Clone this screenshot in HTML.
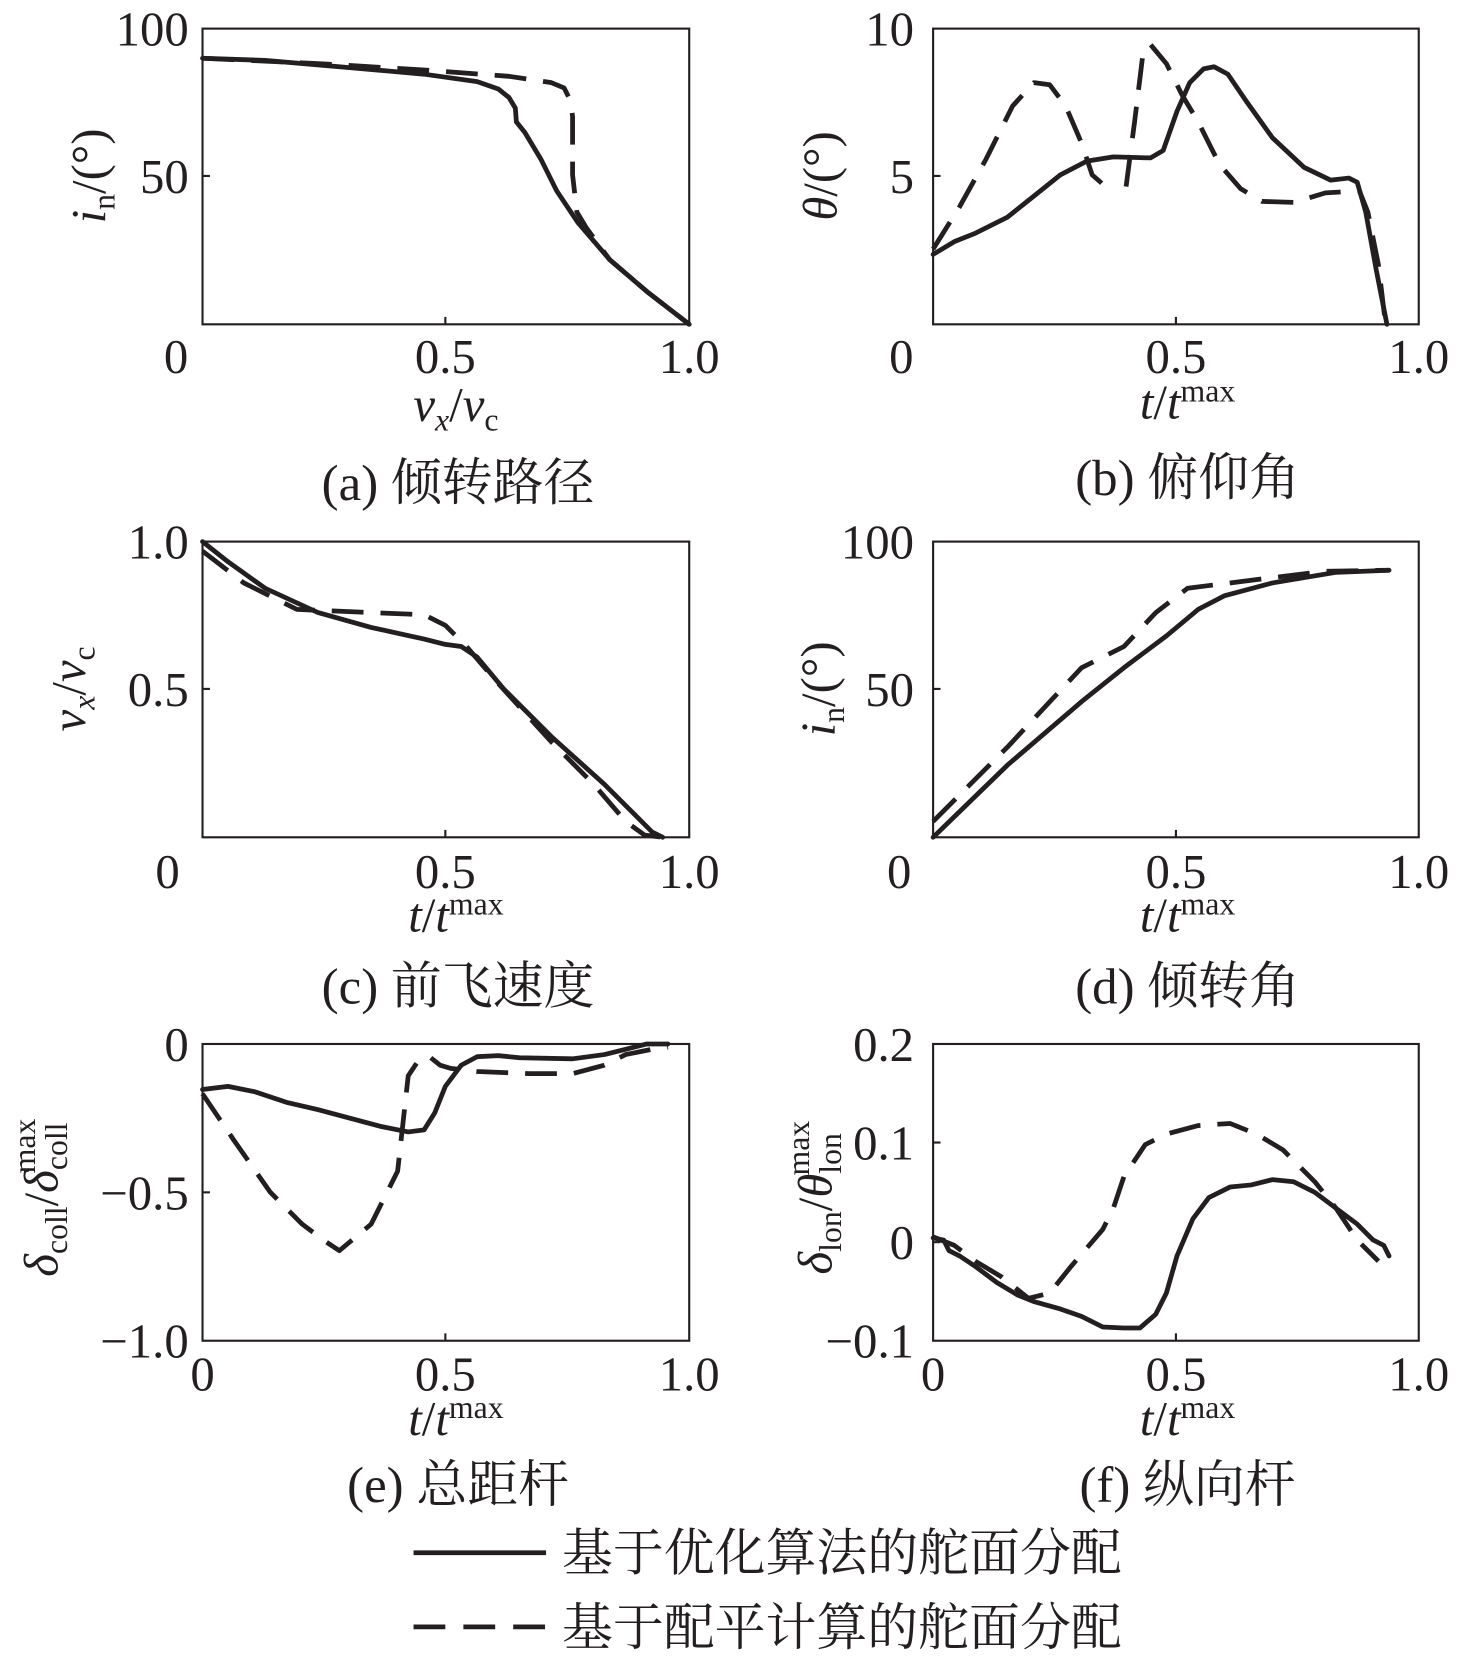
<!DOCTYPE html>
<html><head><meta charset="utf-8">
<style>
html,body{margin:0;padding:0;background:#fff;}
svg{display:block;}
text{font-family:"Liberation Serif","Noto Serif CJK SC","Noto Sans CJK SC",serif;fill:#231f20;}
.t{font-size:46px;}
.cj{font-size:48px;}
.ax{fill:none;stroke:#231f20;stroke-width:2;}
.s{fill:none;stroke:#231f20;stroke-width:4.5;stroke-linejoin:round;stroke-linecap:round;}
.d{fill:none;stroke:#231f20;stroke-width:4.5;stroke-dasharray:30 16;stroke-linejoin:round;}
</style></head><body>
<svg width="1476" height="1664" viewBox="0 0 1392 1570" preserveAspectRatio="none" xmlns="http://www.w3.org/2000/svg">
<!-- (a) -->
<rect class="ax" x="191" y="27" width="459" height="279"/>
<line class="ax" x1="191" y1="166" x2="198" y2="166"/><line class="ax" x1="420" y1="306" x2="420" y2="299"/>
<text class="t" x="178" y="43" text-anchor="end">100</text>
<text class="t" x="178" y="182" text-anchor="end">50</text>
<text class="t" x="166" y="352" text-anchor="middle">0</text>
<text class="t" x="420" y="352" text-anchor="middle">0.5</text>
<text class="t" x="650" y="352" text-anchor="middle">1.0</text>
<text class="t" x="430" y="397" text-anchor="middle" font-style="italic">v<tspan font-size="30" dy="9">x</tspan><tspan dy="-9" font-style="normal">/</tspan>v<tspan font-size="30" dy="9" font-style="normal">c</tspan></text>
<text class="t" transform="translate(99,166) rotate(-90)" text-anchor="middle"><tspan font-style="italic">i</tspan><tspan font-size="30" dy="9">n</tspan><tspan dy="-9">/(°)</tspan></text>
<text class="cj" x="432" y="472" text-anchor="middle">(a) 倾转路径</text>
<polyline class="s" points="191,55 250,57 320,63 400,70 450,77 470,84 480,92 486,102 487,115 495,125 510,150 525,180 545,210 575,245 610,275 650,306"/>
<polyline class="d" points="191,55 300,60 400,66 480,72 520,78 532,83 538,95 540,110 540,165 544,200 553,215 575,245 610,275 650,306"/>
<!-- (b) -->
<rect class="ax" x="880" y="27" width="458" height="279"/>
<line class="ax" x1="880" y1="166" x2="887" y2="166"/><line class="ax" x1="1109" y1="306" x2="1109" y2="299"/>
<text class="t" x="862" y="43" text-anchor="end">10</text>
<text class="t" x="862" y="182" text-anchor="end">5</text>
<text class="t" x="850" y="352" text-anchor="middle">0</text>
<text class="t" x="1109" y="352" text-anchor="middle">0.5</text>
<text class="t" x="1338" y="352" text-anchor="middle">1.0</text>
<text class="t" x="1120" y="395" text-anchor="middle"><tspan font-style="italic">t</tspan>/<tspan font-style="italic">t</tspan><tspan font-size="30" dy="-16">max</tspan></text>
<text class="t" transform="translate(789,166) rotate(-90)" text-anchor="middle"><tspan font-style="italic">θ</tspan>/(°)</text>
<text class="cj" x="1120" y="467" text-anchor="middle">(b) 俯仰角</text>
<polyline class="s" points="880,240 900,228 920,220 950,205 975,185 1000,165 1025,152 1050,148 1085,149 1097,142 1110,105 1122,78 1135,65 1145,63 1158,70 1175,95 1200,130 1230,158 1255,170 1272,168 1280,172 1288,200 1298,255 1308,306"/>
<polyline class="d" points="880,235 905,195 930,150 955,100 975,78 990,80 1005,100 1020,135 1030,165 1045,178"/>
<polyline class="d" points="1062,176 1070,115 1078,50 1085,42 1100,60 1115,90 1130,115 1150,155 1170,178 1190,190 1220,191 1250,182 1282,180 1290,200 1300,250 1306,300"/>
<!-- (c) -->
<rect class="ax" x="191" y="511" width="459" height="279"/>
<line class="ax" x1="191" y1="650" x2="198" y2="650"/><line class="ax" x1="420" y1="790" x2="420" y2="783"/>
<text class="t" x="178" y="527" text-anchor="end">1.0</text>
<text class="t" x="178" y="666" text-anchor="end">0.5</text>
<text class="t" x="158" y="838" text-anchor="middle">0</text>
<text class="t" x="420" y="838" text-anchor="middle">0.5</text>
<text class="t" x="650" y="838" text-anchor="middle">1.0</text>
<text class="t" x="430" y="879" text-anchor="middle"><tspan font-style="italic">t</tspan>/<tspan font-style="italic">t</tspan><tspan font-size="30" dy="-16">max</tspan></text>
<text class="t" transform="translate(80,650) rotate(-90)" text-anchor="middle" font-style="italic">v<tspan font-size="30" dy="9">x</tspan><tspan dy="-9" font-style="normal">/</tspan>v<tspan font-size="30" dy="9" font-style="normal">c</tspan></text>
<text class="cj" x="432" y="947" text-anchor="middle">(c) 前飞速度</text>
<polyline class="s" points="191,511 215,530 250,555 300,578 350,592 400,603 420,608 435,610 450,620 475,650 520,695 570,740 600,770 615,785 625,790"/>
<polyline class="d" points="191,520 230,550 280,575 350,578 400,580 420,590 440,610 470,645 520,700 560,740 590,775 608,788 625,790"/>
<!-- (d) -->
<rect class="ax" x="880" y="511" width="458" height="279"/>
<line class="ax" x1="880" y1="650" x2="887" y2="650"/><line class="ax" x1="1109" y1="790" x2="1109" y2="783"/>
<text class="t" x="862" y="527" text-anchor="end">100</text>
<text class="t" x="862" y="666" text-anchor="end">50</text>
<text class="t" x="848" y="838" text-anchor="middle">0</text>
<text class="t" x="1109" y="838" text-anchor="middle">0.5</text>
<text class="t" x="1338" y="838" text-anchor="middle">1.0</text>
<text class="t" x="1120" y="879" text-anchor="middle"><tspan font-style="italic">t</tspan>/<tspan font-style="italic">t</tspan><tspan font-size="30" dy="-16">max</tspan></text>
<text class="t" transform="translate(787,650) rotate(-90)" text-anchor="middle"><tspan font-style="italic">i</tspan><tspan font-size="30" dy="9">n</tspan><tspan dy="-9">/(°)</tspan></text>
<text class="cj" x="1120" y="947" text-anchor="middle">(d) 倾转角</text>
<polyline class="s" points="880,790 950,722 1020,662 1060,630 1100,600 1130,575 1155,562 1200,550 1260,540 1310,538"/>
<polyline class="d" points="880,775 950,705 1020,630 1060,610 1090,578 1120,555 1200,545 1250,539 1310,538"/>
<!-- (e) -->
<rect class="ax" x="191" y="985" width="459" height="280"/>
<line class="ax" x1="191" y1="1125" x2="198" y2="1125"/><line class="ax" x1="420" y1="1265" x2="420" y2="1258"/>
<text class="t" x="178" y="1001" text-anchor="end">0</text>
<text class="t" x="178" y="1141" text-anchor="end">−0.5</text>
<text class="t" x="178" y="1281" text-anchor="end">−1.0</text>
<text class="t" x="191" y="1312" text-anchor="middle">0</text>
<text class="t" x="420" y="1312" text-anchor="middle">0.5</text>
<text class="t" x="650" y="1312" text-anchor="middle">1.0</text>
<text class="t" x="430" y="1354" text-anchor="middle"><tspan font-style="italic">t</tspan>/<tspan font-style="italic">t</tspan><tspan font-size="30" dy="-16">max</tspan></text>
<text class="t" transform="translate(54,1130) rotate(-90)" text-anchor="middle"><tspan font-style="italic">δ</tspan><tspan font-size="30" dy="9">coll</tspan><tspan dy="-9">/</tspan><tspan font-style="italic">δ</tspan><tspan font-size="30" dy="9">coll</tspan><tspan font-size="30" dx="-48" dy="-30">max</tspan></text>
<text class="cj" x="432" y="1417" text-anchor="middle">(e) 总距杆</text>
<polyline class="s" points="191,1028 215,1025 240,1030 270,1040 300,1047 330,1055 360,1063 385,1068 400,1066 410,1050 420,1025 435,1005 450,997 470,996 490,998 540,999 570,995 590,990 610,985 630,985"/>
<polyline class="d" points="191,1032 220,1075 255,1125 285,1155 305,1170 320,1180 350,1155 375,1105 380,1060 385,1015 395,1000 405,997 415,1005 425,1008 450,1011 500,1013 540,1013 570,1005 590,995 615,990 630,988"/>
<!-- (f) -->
<rect class="ax" x="880" y="985" width="458" height="280"/>
<line class="ax" x1="880" y1="1078" x2="887" y2="1078"/><line class="ax" x1="880" y1="1172" x2="887" y2="1172"/><line class="ax" x1="1109" y1="1265" x2="1109" y2="1258"/>
<text class="t" x="862" y="1001" text-anchor="end">0.2</text>
<text class="t" x="862" y="1094" text-anchor="end">0.1</text>
<text class="t" x="862" y="1188" text-anchor="end">0</text>
<text class="t" x="862" y="1281" text-anchor="end">−0.1</text>
<text class="t" x="880" y="1312" text-anchor="middle">0</text>
<text class="t" x="1109" y="1312" text-anchor="middle">0.5</text>
<text class="t" x="1338" y="1312" text-anchor="middle">1.0</text>
<text class="t" x="1120" y="1354" text-anchor="middle"><tspan font-style="italic">t</tspan>/<tspan font-style="italic">t</tspan><tspan font-size="30" dy="-16">max</tspan></text>
<text class="t" transform="translate(784,1130) rotate(-90)" text-anchor="middle"><tspan font-style="italic">δ</tspan><tspan font-size="30" dy="9">lon</tspan><tspan dy="-9">/</tspan><tspan font-style="italic">θ</tspan><tspan font-size="30" dy="9">lon</tspan><tspan font-size="30" dx="-40" dy="-30">max</tspan></text>
<text class="cj" x="1120" y="1417" text-anchor="middle">(f) 纵向杆</text>
<polyline class="s" points="880,1168 890,1170 895,1180 905,1185 920,1195 940,1210 960,1222 975,1228 1000,1235 1020,1242 1040,1252 1060,1253 1075,1253 1090,1240 1100,1220 1110,1185 1125,1150 1140,1130 1160,1120 1180,1118 1200,1113 1220,1115 1240,1125 1260,1140 1280,1155 1295,1170 1305,1175 1310,1185"/>
<polyline class="d" points="880,1167 900,1175 920,1190 945,1205 970,1225 990,1220 1010,1195 1040,1160 1050,1140 1060,1110 1080,1080 1100,1070 1130,1062 1160,1060 1185,1070 1210,1085 1240,1115 1260,1140 1280,1170 1300,1190"/>
<!-- legend -->
<line x1="390" y1="1465" x2="515" y2="1465" stroke="#231f20" stroke-width="4.5"/>
<text class="cj" x="530" y="1482">基于优化算法的舵面分配</text>
<line x1="390" y1="1535" x2="515" y2="1535" stroke="#231f20" stroke-width="4.5" stroke-dasharray="30 17"/>
<text class="cj" x="530" y="1552">基于配平计算的舵面分配</text>
</svg>
</body></html>
